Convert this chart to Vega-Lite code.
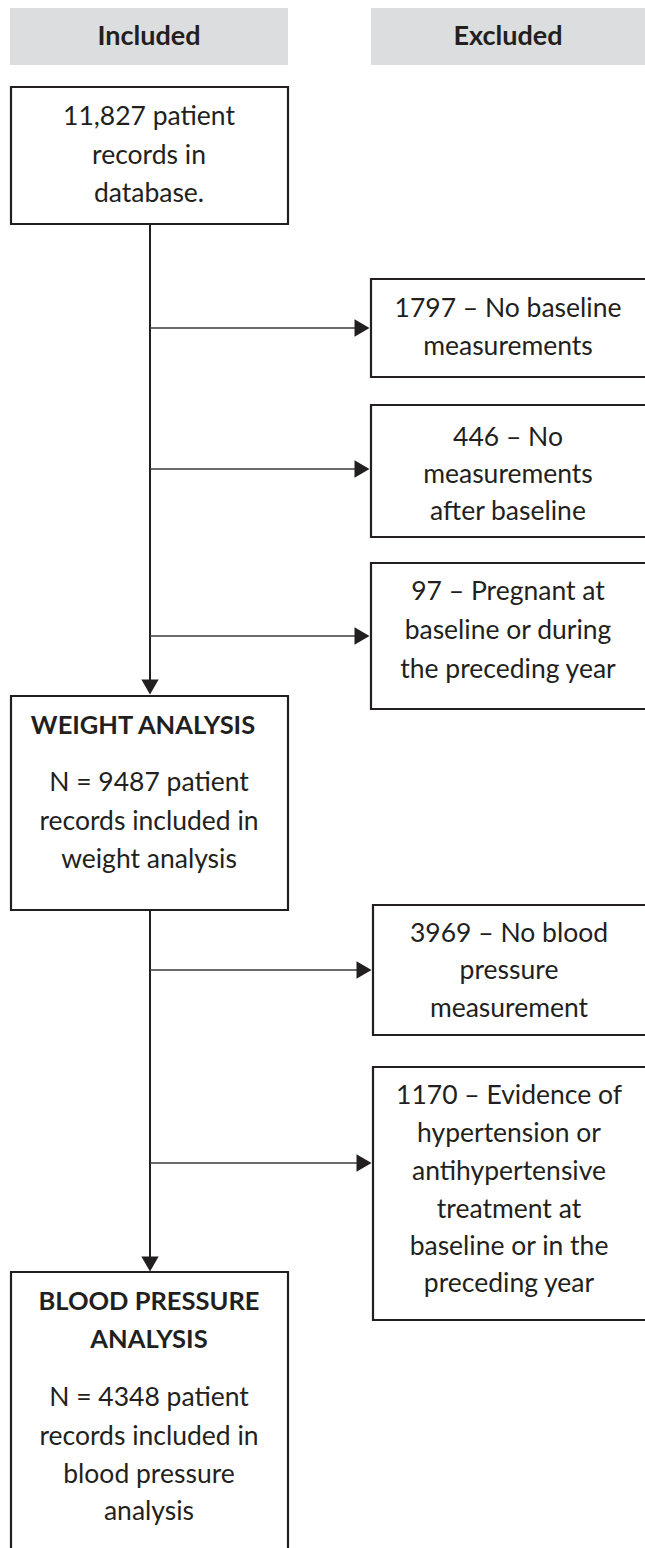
{
  "$schema": "https://vega.github.io/schema/vega-lite/v6.json",
  "width": 645,
  "height": 1548,
  "autosize": {"type": "fit", "contains": "padding"},
  "padding": 0,
  "background": "white",
  "config": {"view": {"stroke": null}},
  "datasets": {
    "headers": [
      {"label": "Included", "x": 10, "x2": 288, "y": 8, "y2": 65, "cx": 149, "cy": 37},
      {"label": "Excluded", "x": 371, "x2": 650, "y": 8, "y2": 65, "cx": 508, "cy": 37}
    ],
    "boxes": [
      {"id": "records", "x": 11, "x2": 288, "y": 87, "y2": 224},
      {"id": "ex1", "x": 371, "x2": 652, "y": 279, "y2": 377},
      {"id": "ex2", "x": 371, "x2": 652, "y": 405, "y2": 537},
      {"id": "ex3", "x": 371, "x2": 652, "y": 563, "y2": 709},
      {"id": "weight", "x": 11, "x2": 288, "y": 696, "y2": 910},
      {"id": "ex4", "x": 373, "x2": 652, "y": 905, "y2": 1035},
      {"id": "ex5", "x": 373, "x2": 652, "y": 1067, "y2": 1320},
      {"id": "bp", "x": 11, "x2": 288, "y": 1272, "y2": 1560}
    ],
    "trunks": [
      {"x": 150, "y": 224, "y2": 682},
      {"x": 150, "y": 910, "y2": 1259}
    ],
    "branches": [
      {"y": 328, "x": 150, "x2": 357},
      {"y": 469, "x": 150, "x2": 357},
      {"y": 636, "x": 150, "x2": 357},
      {"y": 970, "x": 150, "x2": 359},
      {"y": 1163, "x": 150, "x2": 359}
    ],
    "arrowsRight": [
      {"x": 362, "y": 328},
      {"x": 362, "y": 469},
      {"x": 362, "y": 636},
      {"x": 364, "y": 970},
      {"x": 364, "y": 1163}
    ],
    "arrowsDown": [
      {"x": 150, "y": 687},
      {"x": 150, "y": 1264}
    ],
    "titles": [
      {"text": "WEIGHT ANALYSIS", "x": 143, "y": 726},
      {"text": "BLOOD PRESSURE", "x": 149, "y": 1302},
      {"text": "ANALYSIS", "x": 149, "y": 1340}
    ],
    "lines": [
      {"text": "11,827 patient", "x": 149, "y": 117},
      {"text": "records in", "x": 149, "y": 156},
      {"text": "database.", "x": 149, "y": 194},
      {"text": "1797 – No baseline", "x": 508, "y": 309},
      {"text": "measurements", "x": 508, "y": 347},
      {"text": "446 – No", "x": 508, "y": 438},
      {"text": "measurements", "x": 508, "y": 475},
      {"text": "after baseline", "x": 508, "y": 512},
      {"text": "97 – Pregnant at", "x": 508, "y": 592},
      {"text": "baseline or during", "x": 508, "y": 631},
      {"text": "the preceding year", "x": 508, "y": 670},
      {"text": "N = 9487 patient", "x": 149, "y": 783},
      {"text": "records included in", "x": 149, "y": 822},
      {"text": "weight analysis", "x": 149, "y": 860},
      {"text": "3969 – No blood", "x": 509, "y": 934},
      {"text": "pressure", "x": 509, "y": 971},
      {"text": "measurement", "x": 509, "y": 1009},
      {"text": "1170 – Evidence of", "x": 509, "y": 1096},
      {"text": "hypertension or", "x": 509, "y": 1134},
      {"text": "antihypertensive", "x": 509, "y": 1172},
      {"text": "treatment at", "x": 509, "y": 1210},
      {"text": "baseline or in the", "x": 509, "y": 1247},
      {"text": "preceding year", "x": 509, "y": 1284},
      {"text": "N = 4348 patient", "x": 149, "y": 1398},
      {"text": "records included in", "x": 149, "y": 1437},
      {"text": "blood pressure", "x": 149, "y": 1475},
      {"text": "analysis", "x": 149, "y": 1512}
    ]
  },
  "layer": [
    {
      "data": {"name": "headers"},
      "mark": {"type": "rect", "fill": "#dcdddf", "stroke": null, "clip": true},
      "encoding": {
        "x": {"field": "x", "type": "quantitative", "scale": {"domain": [0, 645], "nice": false, "zero": false}, "axis": null},
        "x2": {"field": "x2"},
        "y": {"field": "y", "type": "quantitative", "scale": {"domain": [1548, 0], "nice": false, "zero": false}, "axis": null},
        "y2": {"field": "y2"}
      }
    },
    {
      "data": {"name": "headers"},
      "mark": {"type": "text", "font": "Lato", "fontSize": 27, "fontWeight": "bold", "color": "#231f20", "align": "center", "baseline": "middle"},
      "encoding": {
        "x": {"field": "cx", "type": "quantitative"},
        "y": {"field": "cy", "type": "quantitative"},
        "text": {"field": "label"}
      }
    },
    {
      "data": {"name": "boxes"},
      "mark": {"type": "rect", "fill": "white", "stroke": "#231f20", "strokeWidth": 2.2, "clip": true},
      "encoding": {
        "x": {"field": "x", "type": "quantitative"},
        "x2": {"field": "x2"},
        "y": {"field": "y", "type": "quantitative"},
        "y2": {"field": "y2"}
      }
    },
    {
      "data": {"name": "trunks"},
      "mark": {"type": "rule", "color": "#231f20", "strokeWidth": 2},
      "encoding": {
        "x": {"field": "x", "type": "quantitative"},
        "y": {"field": "y", "type": "quantitative"},
        "y2": {"field": "y2"}
      }
    },
    {
      "data": {"name": "branches"},
      "mark": {"type": "rule", "color": "#3a3a3a", "strokeWidth": 1.5},
      "encoding": {
        "x": {"field": "x", "type": "quantitative"},
        "x2": {"field": "x2"},
        "y": {"field": "y", "type": "quantitative"}
      }
    },
    {
      "data": {"name": "arrowsRight"},
      "mark": {"type": "point", "shape": "triangle-right", "filled": true, "color": "#231f20", "size": 300, "opacity": 1},
      "encoding": {
        "x": {"field": "x", "type": "quantitative"},
        "y": {"field": "y", "type": "quantitative"}
      }
    },
    {
      "data": {"name": "arrowsDown"},
      "mark": {"type": "point", "shape": "triangle-down", "filled": true, "color": "#231f20", "size": 300, "opacity": 1},
      "encoding": {
        "x": {"field": "x", "type": "quantitative"},
        "y": {"field": "y", "type": "quantitative"}
      }
    },
    {
      "data": {"name": "titles"},
      "mark": {"type": "text", "font": "Lato", "fontSize": 25.5, "fontWeight": "bold", "color": "#231f20", "align": "center", "baseline": "middle"},
      "encoding": {
        "x": {"field": "x", "type": "quantitative"},
        "y": {"field": "y", "type": "quantitative"},
        "text": {"field": "text"}
      }
    },
    {
      "data": {"name": "lines"},
      "mark": {"type": "text", "font": "Lato", "fontSize": 26.5, "color": "#231f20", "align": "center", "baseline": "middle"},
      "encoding": {
        "x": {"field": "x", "type": "quantitative"},
        "y": {"field": "y", "type": "quantitative"},
        "text": {"field": "text"}
      }
    }
  ]
}
